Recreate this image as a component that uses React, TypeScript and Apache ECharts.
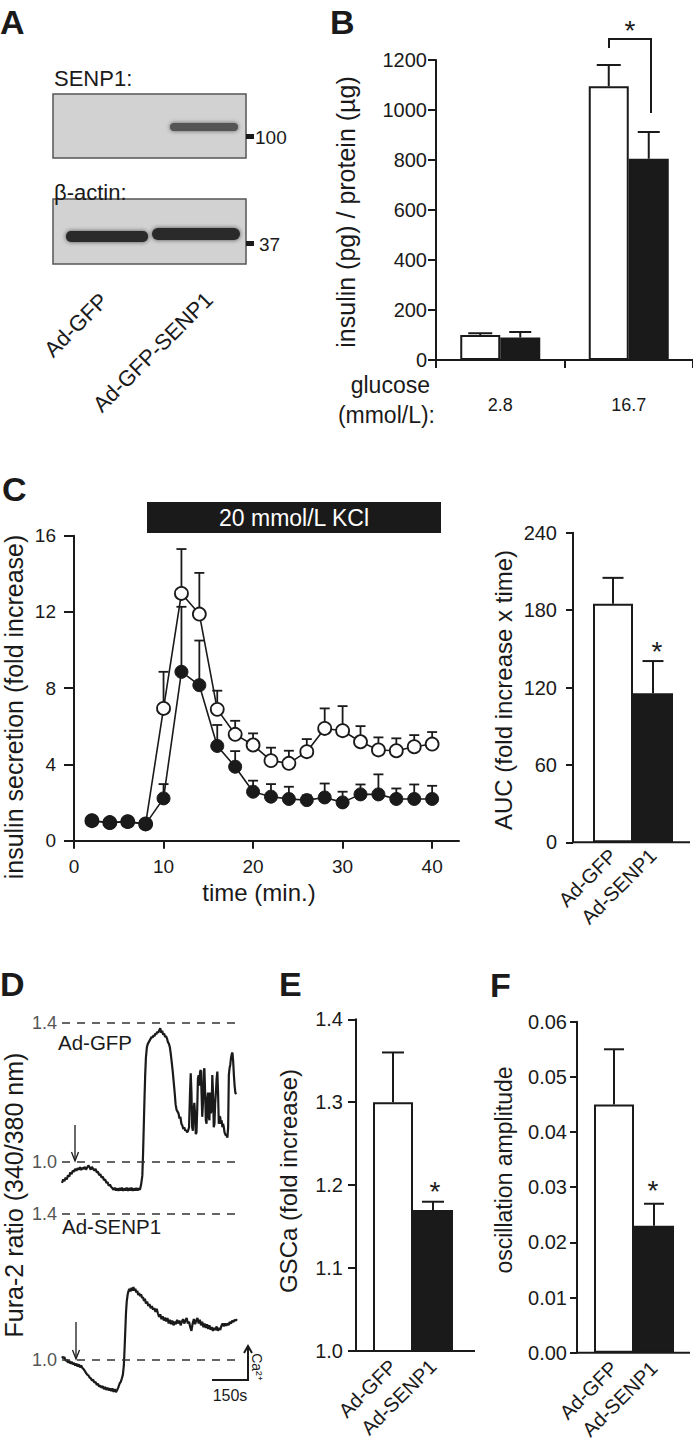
import React, { useEffect, useRef } from 'react';
import * as echarts from 'echarts';

const FONT = '"Liberation Sans", Arial, Helvetica, sans-serif';
const INK = '#1a1a1a';

// ---------- Panel B ----------
const bGlucose = ['2.8', '16.7'];
const bGFP = [100, 1095];
const bGFPErr = [7, 85];
const bSENP1 = [90, 805];
const bSENP1Err = [22, 107];

// ---------- Panel C (time course) ----------
const cTime = [2, 4, 6, 8, 10, 12, 14, 16, 18, 20, 22, 24, 26, 28, 30, 32, 34, 36, 38, 40];
const cGFP = [1.05, 0.95, 1.0, 0.88, 6.94, 12.97, 11.89, 6.89, 5.58, 5.02, 4.2, 4.06, 4.67, 5.89, 5.77, 5.19, 4.76, 4.72, 4.93, 5.07];
const cGFPErr = [0, 0, 0, 0, 1.92, 2.33, 2.16, 0.98, 0.71, 0.61, 0.68, 0.66, 0.66, 1.05, 1.29, 0.82, 0.66, 0.65, 0.61, 0.63];
const cSENP1 = [1.05, 0.94, 1.0, 0.87, 2.22, 8.86, 8.16, 4.97, 3.88, 2.57, 2.31, 2.19, 2.13, 2.27, 2.01, 2.43, 2.43, 2.19, 2.19, 2.19];
const cSENP1Err = [0, 0, 0, 0, 0.75, 3.41, 2.34, 1.1, 0.82, 0.58, 0.66, 0.64, 0.25, 0.73, 0.56, 0.52, 1.05, 0.55, 0.76, 0.69];
const cXTicks = [0, 10, 20, 30, 40];

// ---------- Panel C (AUC) ----------
const groups = ['Ad-GFP', 'Ad-SENP1'];
const cAUC = [185, 115.5];
const cAUCErr = [20, 25];

// ---------- Panel D (traces, time in s) ----------
const dRefLines = [1.0, 1.4];
const dGFPTrace = [
  [0, 0.94], [5, 0.95], [10, 0.945], [15, 0.955], [20, 0.95], [25, 0.962], [30, 0.958], [35, 0.97], [40, 0.965], [45, 0.975],
  [50, 0.972], [55, 0.98], [60, 0.975], [65, 0.982], [70, 0.978], [75, 0.985], [80, 0.977], [85, 0.983], [90, 0.98], [95, 0.986],
  [100, 0.978], [105, 0.984], [110, 0.99], [115, 0.985], [120, 0.978], [125, 0.986], [130, 0.98], [135, 0.975], [140, 0.98], [145, 0.97],
  [150, 0.972], [155, 0.962], [160, 0.965], [165, 0.955], [170, 0.958], [175, 0.948], [180, 0.95], [185, 0.94], [190, 0.942], [195, 0.932],
  [200, 0.935], [205, 0.928], [210, 0.925], [215, 0.92], [220, 0.926], [225, 0.918], [230, 0.924], [235, 0.917], [240, 0.925], [245, 0.918],
  [250, 0.926], [255, 0.917], [260, 0.924], [265, 0.918], [270, 0.926], [275, 0.917], [280, 0.925], [285, 0.918], [290, 0.926], [295, 0.917],
  [300, 0.924], [305, 0.918], [310, 0.925], [315, 0.918], [320, 0.924], [325, 0.92], [330, 0.935], [335, 0.96], [338, 1.02], [341, 1.1],
  [344, 1.18], [347, 1.25], [350, 1.3], [354, 1.33], [358, 1.34], [362, 1.345], [366, 1.35], [370, 1.355], [374, 1.36], [378, 1.358],
  [382, 1.365], [386, 1.362], [390, 1.37], [394, 1.368], [398, 1.375], [402, 1.372], [406, 1.38], [410, 1.385], [414, 1.372], [418, 1.378],
  [422, 1.366], [426, 1.37], [430, 1.36], [434, 1.362], [438, 1.355], [442, 1.345], [446, 1.34], [450, 1.33], [454, 1.31], [458, 1.285],
  [462, 1.26], [466, 1.23], [470, 1.2], [474, 1.165], [478, 1.15], [482, 1.145], [486, 1.14], [490, 1.125], [494, 1.13], [498, 1.11],
  [502, 1.105], [506, 1.095], [510, 1.1], [514, 1.09], [518, 1.092], [522, 1.085], [526, 1.09], [530, 1.1], [534, 1.2], [537, 1.255],
  [540, 1.2], [543, 1.1], [546, 1.09], [549, 1.15], [552, 1.17], [555, 1.14], [558, 1.08], [561, 1.085], [564, 1.15], [567, 1.24],
  [570, 1.25], [573, 1.22], [576, 1.26], [579, 1.265], [582, 1.2], [585, 1.13], [588, 1.17], [591, 1.26], [594, 1.27], [597, 1.2],
  [600, 1.12], [603, 1.11], [606, 1.18], [609, 1.2], [612, 1.13], [615, 1.12], [618, 1.2], [621, 1.14], [624, 1.15], [627, 1.25],
  [630, 1.2], [633, 1.1], [636, 1.11], [639, 1.17], [642, 1.2], [645, 1.24], [648, 1.26], [651, 1.2], [654, 1.11], [657, 1.13],
  [660, 1.13], [663, 1.11], [666, 1.12], [669, 1.1], [672, 1.11], [675, 1.1], [678, 1.085], [681, 1.08], [684, 1.075], [687, 1.08],
  [690, 1.07], [693, 1.1], [696, 1.25], [699, 1.27], [702, 1.28], [705, 1.3], [708, 1.31], [711, 1.315], [714, 1.29], [717, 1.25],
  [720, 1.22], [723, 1.2], [726, 1.195],
];
const dSENP1Trace = [
  [0, 1.01], [5, 1.005], [10, 1.008], [15, 0.998], [20, 1.0], [25, 0.993], [30, 0.998], [35, 0.99], [40, 0.995], [45, 0.988],
  [50, 0.992], [55, 0.985], [60, 0.99], [65, 0.982], [70, 0.988], [75, 0.98], [80, 0.985], [85, 0.978], [90, 0.975], [95, 0.97],
  [100, 0.965], [105, 0.96], [110, 0.958], [115, 0.952], [120, 0.95], [125, 0.944], [130, 0.946], [135, 0.938], [140, 0.94], [145, 0.932],
  [150, 0.935], [155, 0.927], [160, 0.93], [165, 0.924], [170, 0.928], [175, 0.92], [180, 0.926], [185, 0.918], [190, 0.924], [195, 0.917],
  [200, 0.922], [205, 0.915], [210, 0.922], [215, 0.913], [220, 0.92], [225, 0.912], [230, 0.918], [235, 0.925], [240, 0.935], [245, 0.94],
  [250, 0.95], [254, 0.96], [258, 0.985], [261, 1.03], [264, 1.08], [267, 1.13], [270, 1.16], [274, 1.18], [278, 1.19], [282, 1.195],
  [286, 1.188], [290, 1.198], [294, 1.19], [298, 1.2], [302, 1.19], [306, 1.195], [310, 1.185], [314, 1.19], [318, 1.178], [322, 1.183],
  [326, 1.175], [330, 1.18], [334, 1.17], [338, 1.172], [342, 1.162], [346, 1.168], [350, 1.155], [355, 1.16], [360, 1.148], [365, 1.153],
  [370, 1.142], [375, 1.148], [380, 1.138], [385, 1.142], [390, 1.132], [395, 1.14], [400, 1.128], [405, 1.118], [410, 1.125], [415, 1.112],
  [420, 1.12], [425, 1.108], [430, 1.116], [435, 1.106], [440, 1.115], [445, 1.1], [450, 1.11], [455, 1.098], [460, 1.108], [465, 1.095],
  [470, 1.105], [475, 1.098], [480, 1.11], [485, 1.1], [490, 1.108], [495, 1.095], [500, 1.105], [505, 1.112], [510, 1.1], [515, 1.108],
  [520, 1.115], [525, 1.1], [530, 1.105], [535, 1.09], [540, 1.08], [545, 1.1], [550, 1.112], [555, 1.098], [560, 1.108], [565, 1.115],
  [570, 1.1], [575, 1.11], [580, 1.095], [585, 1.105], [590, 1.09], [595, 1.1], [600, 1.088], [605, 1.098], [610, 1.085], [615, 1.095],
  [620, 1.083], [625, 1.09], [630, 1.08], [635, 1.088], [640, 1.082], [645, 1.092], [650, 1.08], [655, 1.088], [660, 1.082], [665, 1.094],
  [670, 1.1], [675, 1.092], [680, 1.1], [685, 1.094], [690, 1.1], [695, 1.096], [700, 1.104], [705, 1.1], [710, 1.108], [715, 1.104],
  [720, 1.11], [725, 1.108], [730, 1.112],
];

// ---------- Panel E ----------
const eGSCa = [1.3, 1.17];
const eGSCaErr = [0.06, 0.01];

// ---------- Panel F ----------
const fAmp = [0.045, 0.023];
const fAmpErr = [0.01, 0.004];

const FILLS = ['#ffffff', INK];

const errBar = (offset: number, cap: number, lw: number) => (params: any, api: any) => {
  const x = api.value(0);
  const v = api.value(1);
  const e = api.value(2);
  if (!e) return { type: 'group', children: [] };
  const p0 = api.coord([x, v]);
  const p1 = api.coord([x, v + e]);
  const cx = p0[0] + offset;
  const style = { stroke: INK, lineWidth: lw };
  return {
    type: 'group',
    children: [
      { type: 'line', shape: { x1: cx, y1: p0[1], x2: cx, y2: p1[1] }, style },
      { type: 'line', shape: { x1: cx - cap / 2, y1: p1[1], x2: cx + cap / 2, y2: p1[1] }, style },
    ],
  };
};

const txt = (text: string, x: number, y: number, size: number, o: any = {}) => ({
  type: 'text',
  x,
  y,
  rotation: o.rot || 0,
  silent: true,
  z: 50,
  style: {
    text,
    fontSize: size,
    fontFamily: FONT,
    fontWeight: o.bold ? 'bold' : 'normal',
    fill: o.fill || INK,
    align: o.align || 'center',
    textAlign: o.align || 'center',
    verticalAlign: 'middle',
    textVerticalAlign: 'middle',
  },
});
const ln = (x1: number, y1: number, x2: number, y2: number, w = 2, c = INK) => ({
  type: 'line', silent: true, z: 50, shape: { x1, y1, x2, y2 }, style: { stroke: c, lineWidth: w },
});
const pl = (points: number[][], w = 2) => ({
  type: 'polyline', silent: true, z: 50, shape: { points }, style: { stroke: INK, fill: 'none', lineWidth: w },
});
const rc = (x: number, y: number, width: number, height: number, style: any, r = 0) => ({
  type: 'rect', silent: true, z: 40, shape: { x, y, width, height, r }, style,
});

const plain = (v: number) => String(v);

const yVal = (gridIndex: number, min: number, max: number, interval: number, o: any) => ({
  type: 'value',
  gridIndex,
  min,
  max,
  interval,
  offset: o.offset || 0,
  axisLine: { show: true, lineStyle: { color: INK, width: 2 } },
  axisTick: { show: true, length: o.tick, lineStyle: { color: INK, width: 2 } },
  axisLabel: { margin: o.margin, fontSize: o.size, fontFamily: FONT, color: INK, formatter: o.fmt || plain },
  splitLine: { show: false },
});

const xCatRot = (gridIndex: number, margin: number) => ({
  type: 'category',
  gridIndex,
  data: groups,
  axisLine: { show: false },
  axisTick: { show: false },
  axisLabel: { rotate: 45, margin, fontSize: 20, fontFamily: FONT, color: INK, interval: 0 },
});

function buildOption(): any {
  const barBase = { barWidth: 40, itemStyle: { borderColor: INK, borderWidth: 2 } };
  const markLineD = {
    silent: true,
    symbol: ['none', 'none'],
    lineStyle: { type: [8, 7], color: '#333', width: 1.5 },
    label: {
      show: true,
      position: 'start',
      distance: 5,
      formatter: (p: any) => Number(p.value).toFixed(1),
      color: '#555',
      fontSize: 18,
      fontFamily: FONT,
    },
    data: dRefLines.map((v) => ({ yAxis: v })),
  };

  return {
    animation: false,
    backgroundColor: '#ffffff',
    textStyle: { fontFamily: FONT },
    grid: [
      { left: 436, top: 60, width: 257, height: 300 }, // 0 B
      { left: 74, top: 535.7, width: 385, height: 305 }, // 1 C time course
      { left: 593, top: 532.7, width: 80, height: 309.6 }, // 2 C AUC
      { left: 62, top: 1023, width: 175, height: 173.75 }, // 3 D top
      { left: 62, top: 1214, width: 175, height: 182.5 }, // 4 D bottom
      { left: 373, top: 1019.3, width: 80, height: 331.7 }, // 5 E
      { left: 594, top: 1021.7, width: 80, height: 331 }, // 6 F
    ],
    xAxis: [
      {
        type: 'category',
        gridIndex: 0,
        data: bGlucose,
        axisLine: { show: true, lineStyle: { color: INK, width: 2 } },
        axisTick: { show: true, length: 8, lineStyle: { color: INK, width: 2 } },
        axisLabel: { margin: 36, fontSize: 18, fontFamily: FONT, color: INK },
      },
      {
        type: 'value',
        gridIndex: 1,
        min: 0,
        max: 43,
        axisLine: { show: true, lineStyle: { color: INK, width: 2 } },
        axisTick: { show: true, length: 8, customValues: cXTicks, lineStyle: { color: INK, width: 2 } },
        axisLabel: { margin: 16, fontSize: 19, fontFamily: FONT, color: INK, customValues: cXTicks, formatter: plain },
        splitLine: { show: false },
      },
      xCatRot(2, 10),
      { type: 'value', gridIndex: 3, min: 0, max: 730, show: false },
      { type: 'value', gridIndex: 4, min: 0, max: 730, show: false },
      xCatRot(5, 12),
      xCatRot(6, 12),
    ],
    yAxis: [
      yVal(0, 0, 1200, 200, { tick: 8, margin: 9, size: 20 }),
      yVal(1, 0, 16, 4, { tick: 10, margin: 18, size: 19 }),
      yVal(2, 0, 240, 60, { tick: 7, margin: 16, size: 20, offset: 20 }),
      { type: 'value', gridIndex: 3, min: 0.9, max: 1.4, show: false },
      { type: 'value', gridIndex: 4, min: 0.9, max: 1.4, show: false },
      yVal(5, 1.0, 1.4, 0.1, { tick: 8, margin: 13, size: 20, offset: 17, fmt: (v: number) => v.toFixed(1) }),
      yVal(6, 0, 0.06, 0.01, { tick: 7, margin: 10, size: 20, offset: 17, fmt: (v: number) => v.toFixed(2) }),
    ],
    series: [
      // B
      { ...barBase, type: 'bar', name: 'Ad-GFP', xAxisIndex: 0, yAxisIndex: 0, barGap: '0%', data: bGFP, itemStyle: { ...barBase.itemStyle, color: FILLS[0] } },
      { ...barBase, type: 'bar', name: 'Ad-GFP-SENP1', xAxisIndex: 0, yAxisIndex: 0, barGap: '0%', data: bSENP1, itemStyle: { ...barBase.itemStyle, color: FILLS[1] } },
      { type: 'custom', xAxisIndex: 0, yAxisIndex: 0, z: 5, encode: { x: 0, y: 1 }, renderItem: errBar(-20, 24, 2), data: bGFP.map((v, i) => [i, v, bGFPErr[i]]) },
      { type: 'custom', xAxisIndex: 0, yAxisIndex: 0, z: 5, encode: { x: 0, y: 1 }, renderItem: errBar(20, 22, 2), data: bSENP1.map((v, i) => [i, v, bSENP1Err[i]]) },
      // C time course
      { type: 'custom', xAxisIndex: 1, yAxisIndex: 1, z: 1, encode: { x: 0, y: 1 }, renderItem: errBar(0, 10, 1.8), data: cTime.map((t, i) => [t, cGFP[i], cGFPErr[i]]) },
      { type: 'custom', xAxisIndex: 1, yAxisIndex: 1, z: 1, encode: { x: 0, y: 1 }, renderItem: errBar(0, 10, 1.8), data: cTime.map((t, i) => [t, cSENP1[i], cSENP1Err[i]]) },
      {
        type: 'line', xAxisIndex: 1, yAxisIndex: 1, z: 2, symbol: 'circle', symbolSize: 13,
        lineStyle: { color: INK, width: 1.6 }, itemStyle: { color: '#ffffff', borderColor: INK, borderWidth: 1.8 },
        data: cTime.map((t, i) => [t, cGFP[i]]),
      },
      {
        type: 'line', xAxisIndex: 1, yAxisIndex: 1, z: 3, symbol: 'circle', symbolSize: 13,
        lineStyle: { color: INK, width: 1.6 }, itemStyle: { color: INK, borderColor: INK, borderWidth: 1 },
        data: cTime.map((t, i) => [t, cSENP1[i]]),
      },
      // C AUC
      { ...barBase, type: 'bar', xAxisIndex: 2, yAxisIndex: 2, data: cAUC.map((v, i) => ({ value: v, itemStyle: { color: FILLS[i], borderColor: INK, borderWidth: 2 } })) },
      { type: 'custom', xAxisIndex: 2, yAxisIndex: 2, z: 5, encode: { x: 0, y: 1 }, renderItem: errBar(0, 21, 2), data: cAUC.map((v, i) => [i, v, cAUCErr[i]]) },
      // D traces
      { type: 'line', xAxisIndex: 3, yAxisIndex: 3, showSymbol: false, symbol: 'none', lineStyle: { color: INK, width: 2.2 }, data: dGFPTrace, markLine: markLineD },
      { type: 'line', xAxisIndex: 4, yAxisIndex: 4, showSymbol: false, symbol: 'none', lineStyle: { color: INK, width: 2.2 }, data: dSENP1Trace, markLine: markLineD },
      // E
      { ...barBase, type: 'bar', xAxisIndex: 5, yAxisIndex: 5, data: eGSCa.map((v, i) => ({ value: v, itemStyle: { color: FILLS[i], borderColor: INK, borderWidth: 2 } })) },
      { type: 'custom', xAxisIndex: 5, yAxisIndex: 5, z: 5, encode: { x: 0, y: 1 }, renderItem: errBar(0, 22, 2), data: eGSCa.map((v, i) => [i, v, eGSCaErr[i]]) },
      // F
      { ...barBase, type: 'bar', xAxisIndex: 6, yAxisIndex: 6, data: fAmp.map((v, i) => ({ value: v, itemStyle: { color: FILLS[i], borderColor: INK, borderWidth: 2 } })) },
      { type: 'custom', xAxisIndex: 6, yAxisIndex: 6, z: 5, encode: { x: 0, y: 1 }, renderItem: errBar(0, 20, 2), data: fAmp.map((v, i) => [i, v, fAmpErr[i]]) },
    ],
    graphic: [
      // panel letters
      txt('A', 0, 22, 34, { bold: true, align: 'left' }),
      txt('B', 330, 22, 34, { bold: true, align: 'left' }),
      txt('C', 2, 489, 34, { bold: true, align: 'left' }),
      txt('D', 0, 984, 34, { bold: true, align: 'left' }),
      txt('E', 279, 984, 34, { bold: true, align: 'left' }),
      txt('F', 490, 985, 34, { bold: true, align: 'left' }),

      // Panel A western blot
      txt('SENP1:', 54, 78, 22, { align: 'left' }),
      rc(53, 94, 193, 64, { fill: '#d2d2d2', stroke: '#555', lineWidth: 1.5 }),
      rc(170, 123, 68, 8, { fill: '#555', shadowBlur: 4, shadowColor: 'rgba(60,60,60,0.8)' }, 4),
      rc(246, 134, 8, 5, { fill: INK }),
      txt('100', 255, 137, 19, { align: 'left' }),
      txt('β-actin:', 54, 192, 22, { align: 'left' }),
      rc(53, 199, 193, 65, { fill: '#d2d2d2', stroke: '#555', lineWidth: 1.5 }),
      rc(66, 231, 82, 11, { fill: '#2a2a2a', shadowBlur: 4, shadowColor: 'rgba(40,40,40,0.8)' }, 5),
      rc(152, 228, 88, 12, { fill: '#2a2a2a', shadowBlur: 4, shadowColor: 'rgba(40,40,40,0.8)' }, 6),
      rc(246, 241, 8, 5, { fill: INK }),
      txt('37', 259, 244, 19, { align: 'left' }),
      txt('Ad-GFP', 104, 297, 22, { align: 'right', rot: Math.PI / 4 }),
      txt('Ad-GFP-SENP1', 209, 296, 22, { align: 'right', rot: Math.PI / 4 }),

      // Panel B annotations
      txt('insulin (pg) / protein (µg)', 346, 212, 25, { rot: Math.PI / 2 }),
      txt('glucose', 430, 385, 23, { align: 'right' }),
      txt('(mmol/L):', 435, 415, 23, { align: 'right' }),
      pl([[609, 48], [609, 39], [651, 39], [651, 113]], 2),
      txt('*', 630, 30, 28),

      // Panel C annotations
      rc(147, 502, 294, 31, { fill: INK }),
      txt('20 mmol/L KCl', 294, 518, 23, { fill: '#ffffff' }),
      txt('insulin secretion (fold increase)', 14, 707, 25, { rot: Math.PI / 2 }),
      txt('time (min.)', 259, 892, 24),
      txt('AUC (fold increase x time)', 503, 690, 24, { rot: Math.PI / 2 }),
      ln(573, 842.3, 690, 842.3, 2),
      txt('*', 657, 651, 28),

      // Panel D annotations
      txt('Fura-2 ratio (340/380 nm)', 14, 1195, 25, { rot: Math.PI / 2 }),
      txt('Ad-GFP', 58, 1042, 20.5, { align: 'left' }),
      txt('Ad-SENP1', 62, 1226, 20.5, { align: 'left' }),
      ln(75, 1125, 75, 1160, 1.3),
      pl([[71.5, 1152], [75, 1161], [78.5, 1152]], 1.3),
      ln(76, 1322, 76, 1358, 1.3),
      pl([[72.5, 1350], [76, 1359], [79.5, 1350]], 1.3),
      pl([[212, 1380], [248, 1380], [248, 1347]], 2),
      pl([[244, 1353], [248, 1346], [252, 1353]], 2),
      txt('150s', 230, 1395, 16),
      txt('Ca²⁺', 257, 1367, 14, { rot: -Math.PI / 2 }),

      // Panel E annotations
      txt('GSCa (fold increase)', 288, 1181, 24, { rot: Math.PI / 2 }),
      ln(356, 1351, 475, 1351, 2),
      txt('*', 435, 1191, 28),

      // Panel F annotations
      txt('oscillation amplitude', 504, 1170, 23, { rot: Math.PI / 2 }),
      ln(577, 1352.7, 690, 1352.7, 2),
      txt('*', 653, 1190, 28),
    ],
  };
}

export default function App() {
  const ref = useRef<HTMLDivElement>(null);
  useEffect(() => {
    document.body.style.margin = '0';
    const chart = echarts.init(ref.current as HTMLDivElement, null, { renderer: 'svg', width: 693, height: 1444 });
    chart.setOption(buildOption());
    return () => chart.dispose();
  }, []);
  return <div ref={ref} style={{ width: 693, height: 1444, background: '#ffffff' }} />;
}
